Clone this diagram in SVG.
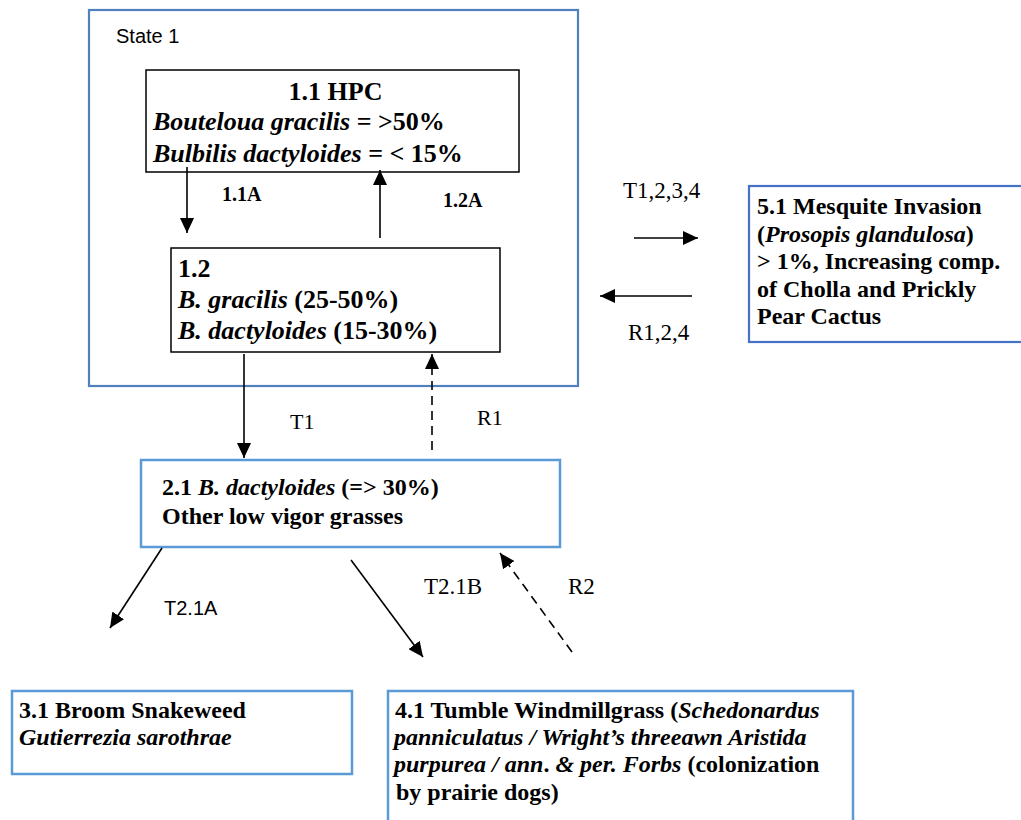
<svg xmlns="http://www.w3.org/2000/svg" width="1021" height="820" viewBox="0 0 1021 820">
<style>
.t{font-family:"Liberation Serif","Times New Roman",serif;fill:#000}
.b{font-weight:bold}
.i{font-style:italic}
.s{font-family:"Liberation Sans",Arial,sans-serif;fill:#000}
.box{fill:#fff;stroke:#000;stroke-width:1.5}
.st{fill:none;stroke:#4f81bd;stroke-width:2.2}
.lb{fill:#fff;stroke:#5b9bd5;stroke-width:2.5}
.db{fill:#fff;stroke:#4472c4;stroke-width:2.2}
.c{stroke:#000;stroke-width:1.6;fill:none}
.d{stroke-dasharray:9 6}
</style>
<defs>
<marker id="ah" markerUnits="userSpaceOnUse" markerWidth="16" markerHeight="14" refX="15" refY="7" orient="auto">
<path d="M0,0 L15,7 L0,14 z" fill="#000"/>
</marker>
</defs>
<rect width="1021" height="820" fill="#fff"/>
<g id="state1">
<rect class="st" x="89" y="10" width="489" height="376"/>
<text class="s" x="116" y="43" font-size="20">State 1</text>
</g>
<g id="n11">
<rect class="box" x="146" y="70" width="373" height="102"/>
<text class="t b" x="335.5" y="100" font-size="26" text-anchor="middle">1.1 HPC</text>
<text class="t b" x="153" y="130" font-size="26"><tspan class="i">Bouteloua gracilis</tspan> = &gt;50%</text>
<text class="t b" x="153" y="162" font-size="26"><tspan class="i">Bulbilis dactyloides</tspan> = &lt; 15%</text>
</g>
<g id="n12">
<rect class="box" x="171" y="248" width="329" height="104"/>
<text class="t b" x="178" y="277" font-size="26">1.2</text>
<text class="t b" x="178" y="308" font-size="26"><tspan class="i">B. gracilis</tspan> (25-50%)</text>
<text class="t b" x="178" y="339" font-size="26"><tspan class="i">B. dactyloides</tspan> (15-30%)</text>
</g>
<g id="n21">
<rect class="lb" x="141" y="460" width="419" height="87"/>
<text class="t b" x="162" y="495" font-size="24">2.1 <tspan class="i">B. dactyloides</tspan> (=&gt; 30%)</text>
<text class="t b" x="162" y="524" font-size="24">Other low vigor grasses</text>
</g>
<g id="n51">
<rect class="db" x="749" y="186" width="290" height="156"/>
<text class="t b" x="757" y="214" font-size="24">5.1 Mesquite Invasion</text>
<text class="t b" x="757" y="242" font-size="24">(<tspan class="i">Prosopis glandulosa</tspan>)</text>
<text class="t b" x="757" y="269" font-size="24">&gt; 1%, Increasing comp.</text>
<text class="t b" x="757" y="297" font-size="24">of Cholla and Prickly</text>
<text class="t b" x="757" y="324" font-size="24">Pear Cactus</text>
</g>
<g id="n31">
<rect class="lb" x="12" y="691" width="340" height="83"/>
<text class="t b" x="19" y="718" font-size="24">3.1 Broom Snakeweed</text>
<text class="t b i" x="19" y="745" font-size="24">Gutierrezia sarothrae</text>
</g>
<g id="n41">
<rect class="lb" x="388" y="691" width="465" height="140"/>
<text class="t b" x="395" y="718" font-size="24">4.1 Tumble Windmillgrass (<tspan class="i">Schedonardus</tspan></text>
<text class="t b i" x="394" y="745" font-size="24">panniculatus / Wright’s threeawn Aristida</text>
<text class="t b" x="394" y="772" font-size="24"><tspan class="i">purpurea / ann</tspan>. <tspan class="i">&amp; per. Forbs</tspan> (colonization</text>
<text class="t b" x="396" y="800" font-size="24">by prairie dogs)</text>
</g>
<g id="connectors">
<line class="c" x1="187" y1="167" x2="187" y2="233" marker-end="url(#ah)"/>
<line class="c" x1="380" y1="238" x2="380" y2="170" marker-end="url(#ah)"/>
<line class="c" x1="244" y1="354" x2="244" y2="458" marker-end="url(#ah)"/>
<line class="c d" x1="432" y1="450" x2="432" y2="354" marker-end="url(#ah)"/>
<line class="c" x1="162" y1="548" x2="110" y2="628" marker-end="url(#ah)"/>
<line class="c" x1="351" y1="560" x2="423" y2="657" marker-end="url(#ah)"/>
<line class="c d" x1="572" y1="652" x2="500" y2="553" marker-end="url(#ah)"/>
<line class="c" x1="634" y1="238" x2="698" y2="238" marker-end="url(#ah)"/>
<line class="c" x1="692" y1="296" x2="600" y2="296" marker-end="url(#ah)"/>
<text class="t b" x="222" y="201" font-size="20">1.1A</text>
<text class="t b" x="443" y="207" font-size="20">1.2A</text>
<text class="t" x="290" y="429" font-size="22">T1</text>
<text class="t" x="477" y="425" font-size="22">R1</text>
<text class="s" x="164" y="615" font-size="20">T2.1A</text>
<text class="t" x="424" y="594" font-size="23">T2.1B</text>
<text class="t" x="568" y="594" font-size="23">R2</text>
<text class="t" x="623" y="198" font-size="23">T1,2,3,4</text>
<text class="t" x="628" y="340" font-size="23">R1,2,4</text>
</g>
</svg>
